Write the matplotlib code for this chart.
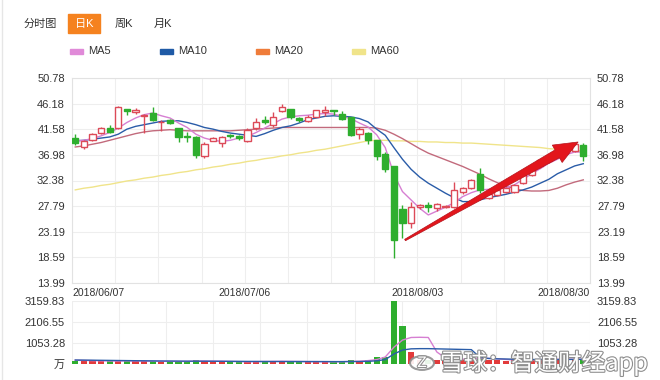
import matplotlib
matplotlib.use("Agg")
import matplotlib.pyplot as plt
import matplotlib.patheffects as pe
from matplotlib.patches import Rectangle, Polygon, Circle
from matplotlib.lines import Line2D
import numpy as np

plt.rcParams["font.family"] = ["Liberation Sans", "Noto Sans CJK SC", "DejaVu Sans"]

# daily candles, 2018/06/07 .. 2018/08/30
opens = [39.96, 38.45, 39.65, 40.85, 41.86, 41.75, 45.2, 44.7, 43.96, 44.44,
         42.8, 43.2, 41.75, 40.4, 40.2, 36.7, 39.5, 39.06, 40.5, 40.3,
         39.5, 41.75, 43.2, 42.35, 44.9, 45.25, 43.6, 43.06, 43.83, 44.7,
         45.0, 44.3, 43.7, 40.73, 40.85, 39.6, 37.1, 35.0, 27.2, 24.7,
         27.7, 28.0, 27.4, 27.7, 27.6, 30.4, 31.0, 33.5, 29.3, 29.8,
         30.4, 30.4, 31.9, 33.4, 34.9, 35.8, 36.7, 37.6, 37.7, 38.8]
highs = [40.67, 39.6, 40.85, 42.0, 42.3, 45.7, 45.3, 45.45, 44.3, 45.63,
         43.3, 43.5, 41.8, 41.0, 40.3, 39.3, 40.2, 40.3, 40.7, 40.5,
         41.8, 43.55, 44.0, 44.7, 46.1, 45.3, 43.8, 44.2, 45.1, 45.8,
         45.1, 44.8, 43.8, 42.04, 41.0, 39.7, 37.55, 35.0, 28.0, 28.6,
         28.1, 28.57, 28.3, 28.0, 32.2, 31.3, 32.7, 34.6, 30.2, 30.9,
         31.2, 31.8, 33.6, 34.5, 36.3, 36.9, 37.5, 38.7, 39.1, 39.1]
lows = [38.76, 38.0, 39.5, 40.75, 40.9, 41.7, 44.1, 44.3, 40.85, 43.06,
        41.3, 42.5, 39.35, 39.3, 36.5, 36.4, 39.4, 38.45, 40.1, 39.6,
        39.3, 41.45, 42.5, 42.0, 44.73, 43.5, 42.9, 42.9, 43.7, 44.0,
        44.2, 43.2, 40.3, 39.78, 38.9, 36.1, 33.96, 18.4, 22.0, 23.8,
        27.2, 26.78, 27.0, 27.5, 27.4, 29.9, 30.8, 30.1, 29.0, 29.6,
        30.2, 30.2, 31.7, 33.2, 34.7, 35.6, 36.5, 37.4, 37.5, 35.8]
closes = [39.06, 39.47, 40.73, 41.86, 41.14, 45.63, 44.9, 45.0, 44.14, 43.24,
          42.95, 42.7, 40.24, 40.2, 37.0, 38.9, 40.07, 40.24, 40.3, 40.1,
          41.45, 42.94, 42.95, 43.83, 45.6, 43.75, 43.3, 43.83, 45.0, 45.0,
          44.8, 43.4, 40.6, 41.57, 39.65, 36.8, 34.5, 21.7, 24.8, 27.7,
          27.9, 27.6, 28.16, 27.8, 30.7, 31.0, 32.5, 30.6, 29.9, 30.7,
          31.0, 31.6, 33.4, 34.3, 36.1, 36.7, 37.3, 38.5, 38.9, 36.7]
volumes = [170, 150, 140, 130, 140, 200, 160, 130, 150, 140,
           120, 110, 140, 130, 220, 150, 120, 110, 100, 110,
           130, 140, 120, 130, 150, 140, 110, 100, 130, 120,
           100, 110, 180, 150, 200, 350, 330, 3159.83, 1900, 600,
           220, 200, 180, 150, 400, 250, 280, 350, 200, 180,
           170, 180, 250, 220, 260, 230, 220, 250, 240, 260]

ma5 = [39.5, 39.6, 39.9, 40.4, 41.0, 41.8, 42.8, 43.6, 44.2, 44.5,
       44.0, 43.6, 42.7, 41.9, 40.7, 40.0, 39.6, 39.4, 39.6, 40.0,
       40.3, 41.0, 41.8, 42.6, 43.4, 43.8, 44.0, 44.1, 44.3, 44.4,
       44.3, 43.9, 43.5, 42.7, 42.0, 40.6, 38.3, 33.5, 30.4, 28.9,
       27.4, 26.2, 26.9, 27.6, 28.4, 29.5, 30.2, 30.7, 30.8, 30.9,
       31.1, 31.6, 32.6, 33.6, 34.5, 35.5, 36.2, 37.0, 37.5, 37.5]
ma10 = [39.5, 39.6, 39.8, 40.0, 40.2, 40.7, 41.6, 42.1, 42.4, 42.7,
        43.0, 43.1, 43.1, 42.8, 42.4, 41.9, 41.6, 41.2, 40.9, 40.7,
        40.5, 40.3, 40.8, 41.4, 41.9, 42.2, 42.7, 43.3, 43.6, 43.9,
        44.0, 43.9, 43.8, 43.5, 42.9, 41.6, 40.5, 38.3, 36.2, 34.4,
        33.0, 31.9, 31.0, 30.1, 29.3, 28.6, 28.6, 28.9, 29.3, 29.6,
        29.9, 30.3, 30.7, 31.2, 31.9, 32.6, 33.6, 34.3, 35.0, 35.4]
ma20 = [38.4, 38.6, 38.9, 39.2, 39.6, 40.0, 40.4, 40.8, 41.1, 41.3,
        41.4, 41.5, 41.4, 41.3, 41.3, 41.3, 41.3, 41.3, 41.3, 41.4,
        41.5, 41.6, 41.7, 41.8, 41.9, 41.9, 41.9, 41.9, 41.9, 41.9,
        41.9, 41.9, 41.9, 41.9, 41.9, 41.8, 41.4, 40.7, 39.9, 39.0,
        38.1, 37.3, 36.7, 36.1, 35.5, 34.9, 34.2, 33.5, 32.7, 32.0,
        31.4, 30.9, 30.6, 30.5, 30.5, 30.6, 31.0, 31.6, 32.1, 32.5]
ma60 = [30.7, 31.0, 31.2, 31.5, 31.7, 32.0, 32.3, 32.5, 32.8, 33.0,
        33.3, 33.5, 33.8, 34.0, 34.3, 34.5, 34.8, 35.0, 35.3, 35.5,
        35.8, 36.0, 36.3, 36.5, 36.8, 37.0, 37.3, 37.5, 37.8, 38.0,
        38.3, 38.6, 38.9, 39.2, 39.5, 39.6, 39.6, 39.5, 39.5, 39.4,
        39.4, 39.3, 39.3, 39.2, 39.2, 39.1, 39.1, 39.0, 38.9, 38.8,
        38.7, 38.6, 38.5, 38.4, 38.3, 38.1, 38.0, 37.9, 37.8, 37.7]
vol_ma5 = [190, 180, 170, 160, 150, 150, 155, 150, 150, 145,
           140, 135, 130, 130, 150, 150, 145, 140, 130, 120,
           115, 120, 125, 130, 135, 130, 125, 120, 120, 115,
           110, 115, 130, 140, 170, 220, 350, 840, 1200, 1330,
           1340, 1330, 600, 300, 250, 240, 260, 290, 280, 260,
           230, 200, 200, 200, 220, 230, 240, 240, 240, 240]
vol_ma10 = [200, 195, 190, 185, 180, 175, 170, 165, 160, 155,
            150, 148, 145, 142, 140, 140, 138, 136, 134, 132,
            130, 128, 126, 125, 125, 124, 124, 123, 122, 122,
            120, 120, 122, 125, 135, 160, 220, 500, 700, 760,
            770, 770, 760, 750, 740, 730, 720, 330, 280, 260,
            250, 240, 230, 225, 225, 225, 225, 230, 230, 235]

price_ticks = [13.99, 18.59, 23.19, 27.79, 32.38, 36.98, 41.58, 46.18, 50.78]
vol_ticks = [0, 1053.28, 2106.55, 3159.83]
vol_tick_labels = ["万", "1053.28", "2106.55", "3159.83"]
date_labels = ["2018/06/07", "2018/07/06", "2018/08/03", "2018/08/30"]
tabs = ["分时图", "日K", "周K", "月K"]
ma_names = ["MA5", "MA10", "MA20", "MA60"]
ma_legend_colors = ["#e08ad8", "#1f5aa6", "#ef7c3a", "#f0e48a"]
ma_line_colors = ["#d67fd2", "#2a5ca8", "#c26a7c", "#f0e48a"]

RED = "#dc4a58"
GREEN = "#2eae2e"
TXT = "#333333"
GRID = "#eeeeee"
W, H = 660, 380


def fx(px):
    return px / W


def fy(py):
    return 1 - py / H


fig = plt.figure(figsize=(6.6, 3.8), dpi=100)
fig.patch.set_facecolor("white")

x = np.arange(len(closes))
o = np.array(opens)
c = np.array(closes)
hi = np.array(highs)
lo = np.array(lows)
up = c >= o
xlim = (-0.38, 59.78)

# --- price panel
ax = fig.add_axes([fx(72), fy(283), fx(590 - 72), (283 - 78) / H])
ax.set_xlim(*xlim)
ax.set_ylim(price_ticks[0], price_ticks[-1])
ax.set_yticks(np.linspace(price_ticks[0], price_ticks[-1], len(price_ticks)))
ax.set_yticklabels([f"{t:.2f}" for t in price_ticks])
ax.set_xticks(np.linspace(xlim[0], xlim[1], 13))
ax.set_xticklabels([])
ax.grid(True, color=GRID, lw=0.8)
ax.set_axisbelow(True)
ax.tick_params(length=0, labelsize=8, labelcolor=TXT, labelright=True, pad=5)
for s in ax.spines.values():
    s.set_color("#e2e2e2")
    s.set_linewidth(0.8)

ax.plot(x, ma60, color=ma_line_colors[3], lw=1, zorder=2)
ax.plot(x, ma20, color=ma_line_colors[2], lw=1, zorder=2)
ax.plot(x, ma10, color=ma_line_colors[1], lw=1, zorder=2)
ax.plot(x, ma5, color=ma_line_colors[0], lw=1, zorder=2)

body_lo = np.minimum(o, c)
body_h = np.maximum(np.abs(c - o), 0.1)
ax.vlines(x[up], lo[up], hi[up], color=RED, lw=1, zorder=3)
ax.vlines(x[~up], lo[~up], hi[~up], color=GREEN, lw=1, zorder=3)
ax.bar(x[up], body_h[up], bottom=body_lo[up], width=0.72, facecolor="white",
       edgecolor=RED, lw=1, zorder=4)
ax.bar(x[~up], body_h[~up], bottom=body_lo[~up], width=0.72, facecolor=GREEN,
       edgecolor=GREEN, lw=1, zorder=4)

# red arrow annotation
arrow_tail = (38.3, 21.7)
arrow_tip = (58.4, 39.3)
t0 = ax.transData.transform(arrow_tail)
t1 = ax.transData.transform(arrow_tip)
d = t1 - t0
u = d / np.hypot(*d)
n = np.array([-u[1], u[0]])
base = t1 - u * 24
pts = [t0 + n * 0.8, base + n * 4.5, base + n * 10, t1,
       base - n * 10, base - n * 4.5, t0 - n * 0.8]
ax.add_patch(Polygon(ax.transData.inverted().transform(pts), closed=True,
                     fc="#e3161c", ec="#b5121b", lw=0.5, zorder=6, clip_on=False))

# date labels under the price panel
xg = np.linspace(xlim[0], xlim[1], 13)
for lab, xpos, ha in zip(date_labels, [xg[0], xg[4], xg[8], xg[12]],
                         ["left", "center", "center", "right"]):
    ax.text(xpos, -0.025, lab, transform=ax.get_xaxis_transform(), ha=ha,
            va="top", fontsize=7.5, color=TXT)

# --- volume panel
axv = fig.add_axes([fx(72), fy(364), fx(590 - 72), (364 - 301) / H])
axv.set_xlim(*xlim)
axv.set_ylim(0, vol_ticks[-1])
axv.set_yticks(vol_ticks)
axv.set_yticklabels(vol_tick_labels)
axv.set_xticks(np.linspace(xlim[0], xlim[1], 12))
axv.set_xticklabels([])
axv.grid(True, color=GRID, lw=0.8)
axv.set_axisbelow(True)
axv.tick_params(length=0, labelsize=8, labelcolor=TXT, labelright=True, pad=5)
# the right-hand zero label sits under the watermark in the reference
axv.yaxis.get_major_ticks()[0].label2.set_visible(False)
for s in axv.spines.values():
    s.set_visible(False)
vol = np.array(volumes)
axv.bar(x[up], vol[up], width=0.72, color="#e23b3b", zorder=3)
axv.bar(x[~up], vol[~up], width=0.72, color=GREEN, zorder=3)
axv.plot(x, vol_ma5, color=ma_line_colors[0], lw=1, zorder=4)
axv.plot(x, vol_ma10, color=ma_line_colors[1], lw=1, zorder=4)

# --- header tabs
fig.add_artist(Rectangle((fx(68), fy(33)), fx(32), 19 / H, transform=fig.transFigure,
                         color="#f5821f", zorder=1))
for lab, px, col in zip(tabs, [24, 84, 115, 154], [TXT, "white", TXT, TXT]):
    fig.text(fx(px), fy(24), lab, ha="center" if lab == "日K" else "left",
             va="center", fontsize=8, color=col, zorder=2)

# legend row
for name, col, px in zip(ma_names, ma_legend_colors, [70, 160, 256, 352]):
    fig.add_artist(Rectangle((fx(px), fy(53.5)), fx(13), 4.5 / H,
                             transform=fig.transFigure, color=col))
    fig.text(fx(px + 18), fy(51), name, va="center", fontsize=8, color=TXT)

# left container border
fig.add_artist(Line2D([fx(2), fx(2)], [0, 1], transform=fig.transFigure,
                      color="#e6e6e6", lw=1))

# watermark
fig.add_artist(Circle((fx(422), fy(363)), 12 / W, transform=fig.transFigure,
                      fc="white", ec="#8f8f8f", lw=1.5, alpha=0.9, zorder=10))
fig.text(fx(422), fy(363), "Z", ha="center", va="center", fontsize=11,
         color="white", zorder=11,
         path_effects=[pe.withStroke(linewidth=1.5, foreground="#8f8f8f")])
fig.text(fx(440), fy(363), "雪球：智通财经app", ha="left", va="center",
         fontsize=17, color="white", zorder=11,
         family=["Noto Sans CJK SC", "DejaVu Sans"],
         path_effects=[pe.withStroke(linewidth=1.6, foreground="#8f8f8f")])

fig.savefig("out.png", dpi=100)
